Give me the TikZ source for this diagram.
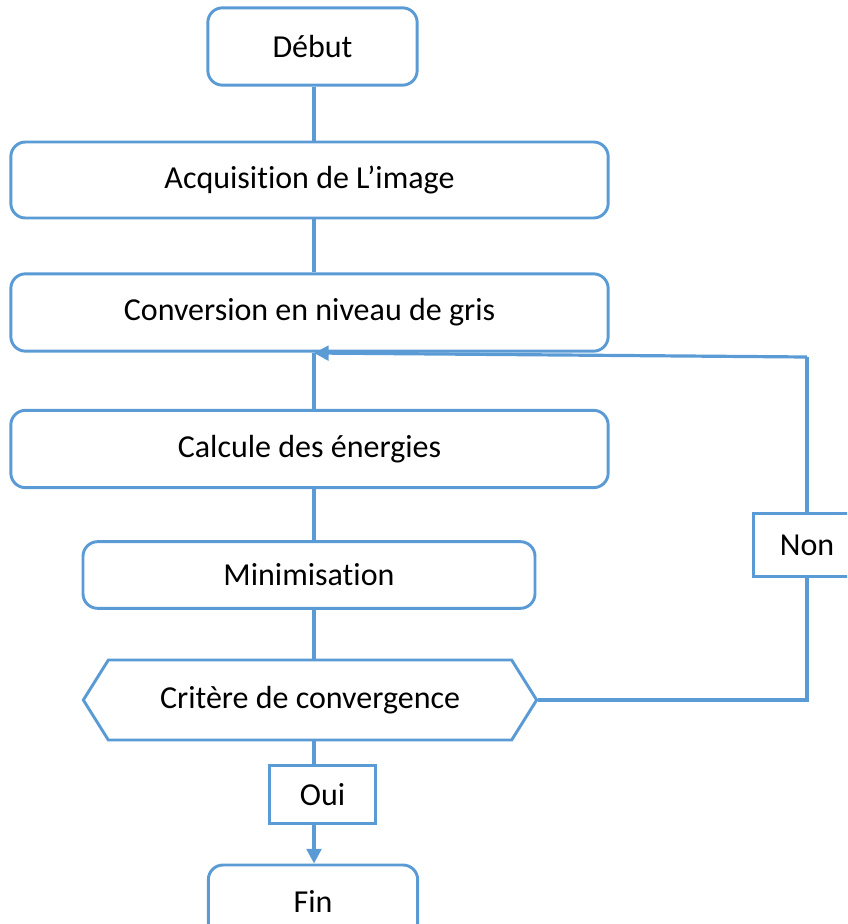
\documentclass[tikz,border=0pt]{standalone}
\usepackage{fontspec}
\setmainfont{Carlito}[Ligatures=NoCommon]
\usetikzlibrary{arrows.meta,shapes.symbols}

\definecolor{mBlue}{HTML}{5B9BD5}

\tikzset{
  etape/.style={draw=mBlue, line width=2.2pt, rounded corners=11pt, fill=white,
    font=\fontsize{24}{28}\selectfont},
  boite/.style={draw=mBlue, line width=2.2pt, fill=white,
    font=\fontsize{24}{28}\selectfont},
  lien/.style={draw=mBlue, line width=2.4pt},
  fleche/.style={lien, -{Triangle[length=11pt,width=11pt]}}
}

\begin{document}
\begin{tikzpicture}[x=0.75pt, y=-0.75pt]
\clip (0,0) rectangle (847,924);
\useasboundingbox (0,0) rectangle (847,924);

\node[etape, minimum width=157pt, minimum height=58pt] (debut) at (312.5,46.5) {Début};
\node[etape, minimum width=448pt, minimum height=57pt] (acq) at (309.5,180) {Acquisition de L’image};
\node[etape, minimum width=448pt, minimum height=58pt] (conv) at (309.5,312.5) {Conversion en niveau de gris};
\node[etape, minimum width=448pt, minimum height=58pt] (calc) at (309.5,449) {Calcule des énergies};
\node[etape, minimum width=339pt, minimum height=50pt] (mini) at (309,575) {Minimisation};
\node[boite, shape=signal, signal to=west and east, signal pointer angle=116,
  minimum width=340pt, minimum height=60pt, inner xsep=0pt] (crit) at (310,700) {Critère de convergence};
\node[boite, minimum width=80pt, minimum height=47pt] (non) at (807,545) {Non};
\node[boite, minimum width=79pt, minimum height=43pt] (oui) at (322.5,794.5) {Oui};
\node[etape, minimum width=157pt, minimum height=54pt] (fin) at (313,901) {Fin};

% axe des liaisons verticales
\coordinate (axe) at (314,0);
\draw[lien] (axe |- debut.south) -- (axe |- acq.north);
\draw[lien] (axe |- acq.south) -- (axe |- conv.north);
\draw[lien] (axe |- conv.south) -- (axe |- calc.north);
\draw[lien] (axe |- calc.south) -- (axe |- mini.north);
\draw[lien] (axe |- mini.south) -- (axe |- crit.north);
\draw[lien] (axe |- crit.south) -- (axe |- oui.north);
\draw[fleche] (axe |- oui.south) -- (axe |- fin.north);

% boucle de retour
\coordinate (coin) at (807,700);
\coordinate (retour) at (807,357);
\coordinate (entree) at (axe |- 0,353);
\draw[lien] (crit.east) -- (coin) -- (non.south);
\draw[lien] (non.north) -- (retour);
\draw[fleche] (retour) -- (entree);

\end{tikzpicture}
\end{document}
